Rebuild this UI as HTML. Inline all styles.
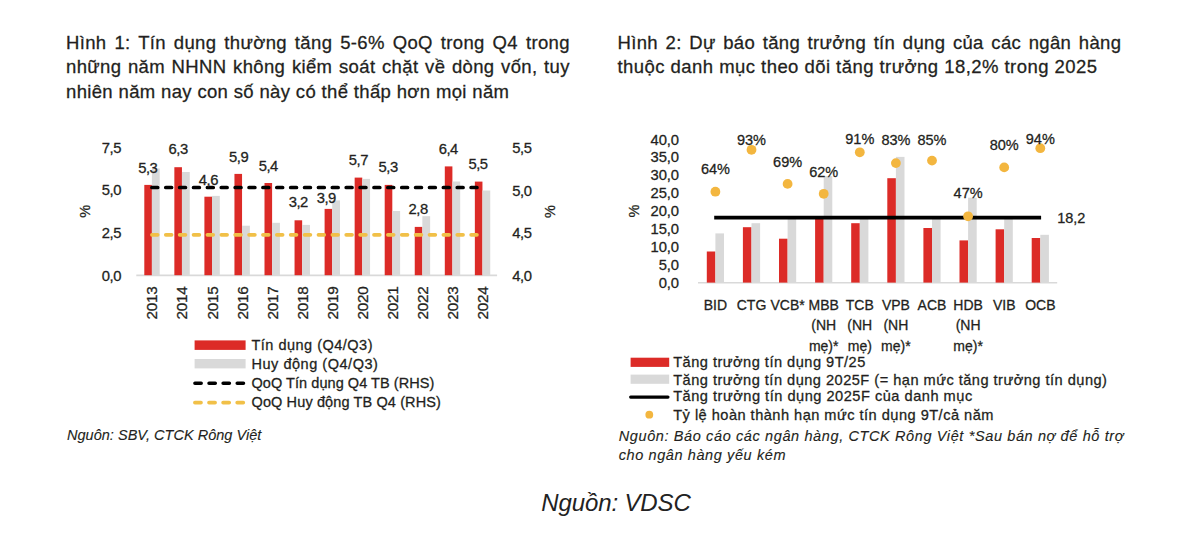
<!DOCTYPE html>
<html><head><meta charset="utf-8"><style>
html,body{margin:0;padding:0;background:#fff;}
svg{display:block;font-family:"Liberation Sans", sans-serif;}
text{stroke:#231f20;stroke-width:0.28px;}
text.it{stroke-width:0.12px;}
text.nos{stroke:none;}
</style></head><body>
<svg width="1200" height="533" viewBox="0 0 1200 533">
<rect width="1200" height="533" fill="#fff"/>
<text x="66.00" y="49.00" font-size="18.5" text-anchor="start" fill="#231f20" letter-spacing="0.350" word-spacing="2.438">Hình 1: Tín dụng thường tăng 5-6% QoQ trong Q4 trong</text>
<text x="66.00" y="73.20" font-size="18.5" text-anchor="start" fill="#231f20" letter-spacing="0.350" word-spacing="1.154">những năm NHNN không kiểm soát chặt về dòng vốn, tuy</text>
<text x="66.00" y="97.50" font-size="18.5" text-anchor="start" fill="#231f20" letter-spacing="0.349">nhiên năm nay con số này có thể thấp hơn mọi năm</text>
<text x="617.50" y="48.90" font-size="18.5" text-anchor="start" fill="#231f20" letter-spacing="0.350" word-spacing="2.053">Hình 2: Dự báo tăng trưởng tín dụng của các ngân hàng</text>
<text x="617.50" y="73.10" font-size="18.5" text-anchor="start" fill="#231f20" letter-spacing="0.451">thuộc danh mục theo dõi tăng trưởng 18,2% trong 2025</text>
<text x="121.00" y="153.00" font-size="14.8" text-anchor="end" fill="#231f20" letter-spacing="-0.45">7,5</text>
<text x="121.00" y="195.40" font-size="14.8" text-anchor="end" fill="#231f20" letter-spacing="-0.45">5,0</text>
<text x="121.00" y="238.20" font-size="14.8" text-anchor="end" fill="#231f20" letter-spacing="-0.45">2,5</text>
<text x="121.00" y="280.80" font-size="14.8" text-anchor="end" fill="#231f20" letter-spacing="-0.45">0,0</text>
<text x="512.30" y="153.30" font-size="14.8" text-anchor="start" fill="#231f20" letter-spacing="-0.45">5,5</text>
<text x="512.30" y="195.50" font-size="14.8" text-anchor="start" fill="#231f20" letter-spacing="-0.45">5,0</text>
<text x="512.30" y="237.90" font-size="14.8" text-anchor="start" fill="#231f20" letter-spacing="-0.45">4,5</text>
<text x="512.30" y="280.70" font-size="14.8" text-anchor="start" fill="#231f20" letter-spacing="-0.45">4,0</text>
<text x="0" y="0" font-size="14.5" text-anchor="middle" fill="#231f20" transform="translate(89.70,211.40) rotate(-90)">%</text>
<text x="0" y="0" font-size="14.5" text-anchor="middle" fill="#231f20" transform="translate(554.90,211.60) rotate(-90)">%</text>
<line x1="136.3" y1="275.4" x2="497.1" y2="275.4" stroke="#d9d9d9" stroke-width="1.6"/>
<rect x="144.30" y="184.90" width="7.60" height="90.30" fill="#dc2b27"/>
<rect x="151.90" y="168.50" width="7.80" height="106.70" fill="#d9d9d9"/>
<rect x="174.35" y="167.20" width="7.60" height="108.00" fill="#dc2b27"/>
<rect x="181.95" y="172.00" width="7.80" height="103.20" fill="#d9d9d9"/>
<rect x="204.40" y="196.70" width="7.60" height="78.50" fill="#dc2b27"/>
<rect x="212.00" y="195.90" width="7.80" height="79.30" fill="#d9d9d9"/>
<rect x="234.45" y="173.90" width="7.60" height="101.30" fill="#dc2b27"/>
<rect x="242.05" y="225.70" width="7.80" height="49.50" fill="#d9d9d9"/>
<rect x="264.50" y="183.00" width="7.60" height="92.20" fill="#dc2b27"/>
<rect x="272.10" y="222.80" width="7.80" height="52.40" fill="#d9d9d9"/>
<rect x="294.55" y="220.30" width="7.60" height="54.90" fill="#dc2b27"/>
<rect x="302.15" y="224.90" width="7.80" height="50.30" fill="#d9d9d9"/>
<rect x="324.60" y="208.90" width="7.60" height="66.30" fill="#dc2b27"/>
<rect x="332.20" y="200.40" width="7.80" height="74.80" fill="#d9d9d9"/>
<rect x="354.65" y="177.60" width="7.60" height="97.60" fill="#dc2b27"/>
<rect x="362.25" y="178.90" width="7.80" height="96.30" fill="#d9d9d9"/>
<rect x="384.70" y="184.90" width="7.60" height="90.30" fill="#dc2b27"/>
<rect x="392.30" y="211.00" width="7.80" height="64.20" fill="#d9d9d9"/>
<rect x="414.75" y="226.90" width="7.60" height="48.30" fill="#dc2b27"/>
<rect x="422.35" y="216.20" width="7.80" height="59.00" fill="#d9d9d9"/>
<rect x="444.80" y="166.40" width="7.60" height="108.80" fill="#dc2b27"/>
<rect x="452.40" y="181.50" width="7.80" height="93.70" fill="#d9d9d9"/>
<rect x="474.85" y="181.60" width="7.60" height="93.60" fill="#dc2b27"/>
<rect x="482.45" y="190.50" width="7.80" height="84.70" fill="#d9d9d9"/>
<line x1="151.9" y1="187.5" x2="477.2" y2="187.5" stroke="#000" stroke-width="3.7" stroke-linecap="round" stroke-dasharray="5.8 8.08"/>
<line x1="151.9" y1="234.8" x2="477.2" y2="234.8" stroke="#f1c048" stroke-width="3.7" stroke-linecap="round" stroke-dasharray="5.8 8.08"/>
<text x="147.80" y="172.80" font-size="14.8" text-anchor="middle" fill="#231f20" letter-spacing="-0.45">5,3</text>
<text x="178.20" y="154.40" font-size="14.8" text-anchor="middle" fill="#231f20" letter-spacing="-0.45">6,3</text>
<text x="208.40" y="185.20" font-size="14.8" text-anchor="middle" fill="#231f20" letter-spacing="-0.45">4,6</text>
<text x="238.60" y="161.50" font-size="14.8" text-anchor="middle" fill="#231f20" letter-spacing="-0.45">5,9</text>
<text x="268.30" y="170.70" font-size="14.8" text-anchor="middle" fill="#231f20" letter-spacing="-0.45">5,4</text>
<text x="298.30" y="207.00" font-size="14.8" text-anchor="middle" fill="#231f20" letter-spacing="-0.45">3,2</text>
<text x="326.30" y="202.50" font-size="14.8" text-anchor="middle" fill="#231f20" letter-spacing="-0.45">3,9</text>
<text x="358.40" y="164.90" font-size="14.8" text-anchor="middle" fill="#231f20" letter-spacing="-0.45">5,7</text>
<text x="388.10" y="171.50" font-size="14.8" text-anchor="middle" fill="#231f20" letter-spacing="-0.45">5,3</text>
<text x="418.10" y="214.10" font-size="14.8" text-anchor="middle" fill="#231f20" letter-spacing="-0.45">2,8</text>
<text x="448.30" y="154.40" font-size="14.8" text-anchor="middle" fill="#231f20" letter-spacing="-0.45">6,4</text>
<text x="478.00" y="169.40" font-size="14.8" text-anchor="middle" fill="#231f20" letter-spacing="-0.45">5,5</text>
<text x="0" y="0" font-size="15.3" letter-spacing="-0.3" text-anchor="middle" fill="#231f20" transform="translate(157.40,303.0) rotate(-90)">2013</text>
<text x="0" y="0" font-size="15.3" letter-spacing="-0.3" text-anchor="middle" fill="#231f20" transform="translate(187.45,303.0) rotate(-90)">2014</text>
<text x="0" y="0" font-size="15.3" letter-spacing="-0.3" text-anchor="middle" fill="#231f20" transform="translate(217.50,303.0) rotate(-90)">2015</text>
<text x="0" y="0" font-size="15.3" letter-spacing="-0.3" text-anchor="middle" fill="#231f20" transform="translate(247.55,303.0) rotate(-90)">2016</text>
<text x="0" y="0" font-size="15.3" letter-spacing="-0.3" text-anchor="middle" fill="#231f20" transform="translate(277.60,303.0) rotate(-90)">2017</text>
<text x="0" y="0" font-size="15.3" letter-spacing="-0.3" text-anchor="middle" fill="#231f20" transform="translate(307.65,303.0) rotate(-90)">2018</text>
<text x="0" y="0" font-size="15.3" letter-spacing="-0.3" text-anchor="middle" fill="#231f20" transform="translate(337.70,303.0) rotate(-90)">2019</text>
<text x="0" y="0" font-size="15.3" letter-spacing="-0.3" text-anchor="middle" fill="#231f20" transform="translate(367.75,303.0) rotate(-90)">2020</text>
<text x="0" y="0" font-size="15.3" letter-spacing="-0.3" text-anchor="middle" fill="#231f20" transform="translate(397.80,303.0) rotate(-90)">2021</text>
<text x="0" y="0" font-size="15.3" letter-spacing="-0.3" text-anchor="middle" fill="#231f20" transform="translate(427.85,303.0) rotate(-90)">2022</text>
<text x="0" y="0" font-size="15.3" letter-spacing="-0.3" text-anchor="middle" fill="#231f20" transform="translate(457.90,303.0) rotate(-90)">2023</text>
<text x="0" y="0" font-size="15.3" letter-spacing="-0.3" text-anchor="middle" fill="#231f20" transform="translate(487.95,303.0) rotate(-90)">2024</text>
<rect x="194.60" y="340.40" width="51.00" height="9.50" fill="#dc2b27"/>
<rect x="194.60" y="359.00" width="51.00" height="9.40" fill="#d9d9d9"/>
<line x1="194.9" y1="383.3" x2="243.6" y2="383.3" stroke="#000" stroke-width="3.5" stroke-linecap="round" stroke-dasharray="6.3 7.8"/>
<line x1="194.9" y1="402.6" x2="243.6" y2="402.6" stroke="#f1c048" stroke-width="3.7" stroke-linecap="round" stroke-dasharray="6.1 8.0"/>
<text x="251.50" y="349.70" font-size="14.5" text-anchor="start" fill="#231f20" letter-spacing="0.491">Tín dụng (Q4/Q3)</text>
<text x="251.50" y="368.50" font-size="14.5" text-anchor="start" fill="#231f20" letter-spacing="0.528">Huy động (Q4/Q3)</text>
<text x="251.50" y="388.00" font-size="14.5" text-anchor="start" fill="#231f20" letter-spacing="0.052">QoQ Tín dụng Q4 TB (RHS)</text>
<text x="251.50" y="407.20" font-size="14.5" text-anchor="start" fill="#231f20" letter-spacing="0.118">QoQ Huy động TB Q4 (RHS)</text>
<text x="67.00" y="440.10" font-size="14.5" text-anchor="start" fill="#231f20" font-style="italic" class="it" letter-spacing="0.024">Nguôn: SBV, CTCK Rông Việt</text>
<text x="679.00" y="144.60" font-size="14.8" text-anchor="end" fill="#231f20" letter-spacing="-0.1">40,0</text>
<text x="679.00" y="162.47" font-size="14.8" text-anchor="end" fill="#231f20" letter-spacing="-0.1">35,0</text>
<text x="679.00" y="180.35" font-size="14.8" text-anchor="end" fill="#231f20" letter-spacing="-0.1">30,0</text>
<text x="679.00" y="198.22" font-size="14.8" text-anchor="end" fill="#231f20" letter-spacing="-0.1">25,0</text>
<text x="679.00" y="216.10" font-size="14.8" text-anchor="end" fill="#231f20" letter-spacing="-0.1">20,0</text>
<text x="679.00" y="233.97" font-size="14.8" text-anchor="end" fill="#231f20" letter-spacing="-0.1">15,0</text>
<text x="679.00" y="251.85" font-size="14.8" text-anchor="end" fill="#231f20" letter-spacing="-0.1">10,0</text>
<text x="679.00" y="269.72" font-size="14.8" text-anchor="end" fill="#231f20" letter-spacing="-0.1">5,0</text>
<text x="679.00" y="287.60" font-size="14.8" text-anchor="end" fill="#231f20" letter-spacing="-0.1">0,0</text>
<text x="0" y="0" font-size="14.5" text-anchor="middle" fill="#231f20" transform="translate(639.20,211) rotate(-90)">%</text>
<line x1="698" y1="282.8" x2="1057.2" y2="282.8" stroke="#d9d9d9" stroke-width="1.6"/>
<rect x="706.80" y="251.50" width="8.60" height="31.10" fill="#dc2b27"/>
<rect x="715.40" y="233.40" width="8.60" height="49.20" fill="#d9d9d9"/>
<rect x="742.90" y="227.20" width="8.60" height="55.40" fill="#dc2b27"/>
<rect x="751.50" y="223.20" width="8.60" height="59.40" fill="#d9d9d9"/>
<rect x="779.00" y="238.70" width="8.60" height="43.90" fill="#dc2b27"/>
<rect x="787.60" y="218.50" width="8.60" height="64.10" fill="#d9d9d9"/>
<rect x="815.10" y="219.00" width="8.60" height="63.60" fill="#dc2b27"/>
<rect x="823.70" y="176.10" width="8.60" height="106.50" fill="#d9d9d9"/>
<rect x="851.20" y="223.20" width="8.60" height="59.40" fill="#dc2b27"/>
<rect x="859.80" y="218.50" width="8.60" height="64.10" fill="#d9d9d9"/>
<rect x="887.30" y="178.20" width="8.60" height="104.40" fill="#dc2b27"/>
<rect x="895.90" y="156.90" width="8.60" height="125.70" fill="#d9d9d9"/>
<rect x="923.40" y="228.00" width="8.60" height="54.60" fill="#dc2b27"/>
<rect x="932.00" y="218.50" width="8.60" height="64.10" fill="#d9d9d9"/>
<rect x="959.50" y="240.40" width="8.60" height="42.20" fill="#dc2b27"/>
<rect x="968.10" y="197.70" width="8.60" height="84.90" fill="#d9d9d9"/>
<rect x="995.60" y="229.30" width="8.60" height="53.30" fill="#dc2b27"/>
<rect x="1004.20" y="218.50" width="8.60" height="64.10" fill="#d9d9d9"/>
<rect x="1031.70" y="238.00" width="8.60" height="44.60" fill="#dc2b27"/>
<rect x="1040.30" y="234.80" width="8.60" height="47.80" fill="#d9d9d9"/>
<line x1="714.2" y1="217.6" x2="1041.1" y2="217.6" stroke="#000" stroke-width="3.8"/>
<text x="1057.20" y="222.60" font-size="14.5" text-anchor="start" fill="#231f20">18,2</text>
<circle cx="715.40" cy="191.70" r="4.9" fill="#f3b63f"/>
<text x="715.40" y="174.30" font-size="14.5" text-anchor="middle" fill="#231f20">64%</text>
<text x="715.40" y="309.80" font-size="14.0" text-anchor="middle" fill="#231f20">BID</text>
<circle cx="751.50" cy="149.80" r="4.9" fill="#f3b63f"/>
<text x="751.50" y="144.60" font-size="14.5" text-anchor="middle" fill="#231f20">93%</text>
<text x="751.50" y="309.80" font-size="14.0" text-anchor="middle" fill="#231f20">CTG</text>
<circle cx="787.60" cy="183.90" r="4.9" fill="#f3b63f"/>
<text x="787.60" y="166.60" font-size="14.5" text-anchor="middle" fill="#231f20">69%</text>
<text x="787.60" y="309.80" font-size="14.0" text-anchor="middle" fill="#231f20">VCB*</text>
<circle cx="823.70" cy="193.80" r="4.9" fill="#f3b63f"/>
<text x="823.70" y="177.10" font-size="14.5" text-anchor="middle" fill="#231f20">62%</text>
<text x="823.70" y="309.80" font-size="14.0" text-anchor="middle" fill="#231f20">MBB</text>
<text x="823.70" y="330.25" font-size="14.0" text-anchor="middle" fill="#231f20">(NH</text>
<text x="823.70" y="350.70" font-size="14.0" text-anchor="middle" fill="#231f20">mẹ)*</text>
<circle cx="859.80" cy="152.30" r="4.9" fill="#f3b63f"/>
<text x="859.80" y="144.00" font-size="14.5" text-anchor="middle" fill="#231f20">91%</text>
<text x="859.80" y="309.80" font-size="14.0" text-anchor="middle" fill="#231f20">TCB</text>
<text x="859.80" y="330.25" font-size="14.0" text-anchor="middle" fill="#231f20">(NH</text>
<text x="859.80" y="350.70" font-size="14.0" text-anchor="middle" fill="#231f20">mẹ)</text>
<circle cx="895.90" cy="163.10" r="4.9" fill="#f3b63f"/>
<text x="895.90" y="144.50" font-size="14.5" text-anchor="middle" fill="#231f20">83%</text>
<text x="895.90" y="309.80" font-size="14.0" text-anchor="middle" fill="#231f20">VPB</text>
<text x="895.90" y="330.25" font-size="14.0" text-anchor="middle" fill="#231f20">(NH</text>
<text x="895.90" y="350.70" font-size="14.0" text-anchor="middle" fill="#231f20">mẹ)*</text>
<circle cx="932.00" cy="160.60" r="4.9" fill="#f3b63f"/>
<text x="932.00" y="144.50" font-size="14.5" text-anchor="middle" fill="#231f20">85%</text>
<text x="932.00" y="309.80" font-size="14.0" text-anchor="middle" fill="#231f20">ACB</text>
<circle cx="968.10" cy="216.30" r="4.9" fill="#f3b63f"/>
<text x="968.10" y="198.10" font-size="14.5" text-anchor="middle" fill="#231f20">47%</text>
<text x="968.10" y="309.80" font-size="14.0" text-anchor="middle" fill="#231f20">HDB</text>
<text x="968.10" y="330.25" font-size="14.0" text-anchor="middle" fill="#231f20">(NH</text>
<text x="968.10" y="350.70" font-size="14.0" text-anchor="middle" fill="#231f20">mẹ)*</text>
<circle cx="1004.20" cy="167.40" r="4.9" fill="#f3b63f"/>
<text x="1004.20" y="149.50" font-size="14.5" text-anchor="middle" fill="#231f20">80%</text>
<text x="1004.20" y="309.80" font-size="14.0" text-anchor="middle" fill="#231f20">VIB</text>
<circle cx="1040.30" cy="148.20" r="4.9" fill="#f3b63f"/>
<text x="1040.30" y="143.90" font-size="14.5" text-anchor="middle" fill="#231f20">94%</text>
<text x="1040.30" y="309.80" font-size="14.0" text-anchor="middle" fill="#231f20">OCB</text>
<rect x="630.60" y="357.70" width="38.60" height="9.20" fill="#dc2b27"/>
<rect x="630.60" y="374.60" width="38.60" height="9.20" fill="#d9d9d9"/>
<line x1="630.6" y1="397.1" x2="668.0" y2="397.1" stroke="#000" stroke-width="3.1" stroke-linecap="round"/>
<circle cx="649.3" cy="414.7" r="3.9" fill="#f3b63f"/>
<text x="673.20" y="366.50" font-size="14.6" text-anchor="start" fill="#231f20" letter-spacing="0.485">Tăng trưởng tín dụng 9T/25</text>
<text x="673.20" y="384.60" font-size="14.6" text-anchor="start" fill="#231f20" letter-spacing="0.482">Tăng trưởng tín dụng 2025F (= hạn mức tăng trưởng tín dụng)</text>
<text x="673.20" y="401.40" font-size="14.6" text-anchor="start" fill="#231f20" letter-spacing="0.506">Tăng trưởng tín dụng 2025F của danh mục</text>
<text x="673.20" y="419.60" font-size="14.6" text-anchor="start" fill="#231f20" letter-spacing="0.476">Tỷ lệ hoàn thành hạn mức tín dụng 9T/cả năm</text>
<text x="618.70" y="440.60" font-size="14.5" text-anchor="start" fill="#231f20" font-style="italic" class="it" letter-spacing="0.618">Nguôn: Báo cáo các ngân hàng, CTCK Rông Việt *Sau bán nợ để hỗ trợ</text>
<text x="618.70" y="460.10" font-size="14.5" text-anchor="start" fill="#231f20" font-style="italic" class="it" letter-spacing="0.601">cho ngân hàng yếu kém</text>
<text x="541.30" y="510.80" font-size="24" text-anchor="start" fill="#222" font-style="italic" letter-spacing="-0.125" class="nos">Nguồn: VDSC</text>
</svg>
</body></html>
